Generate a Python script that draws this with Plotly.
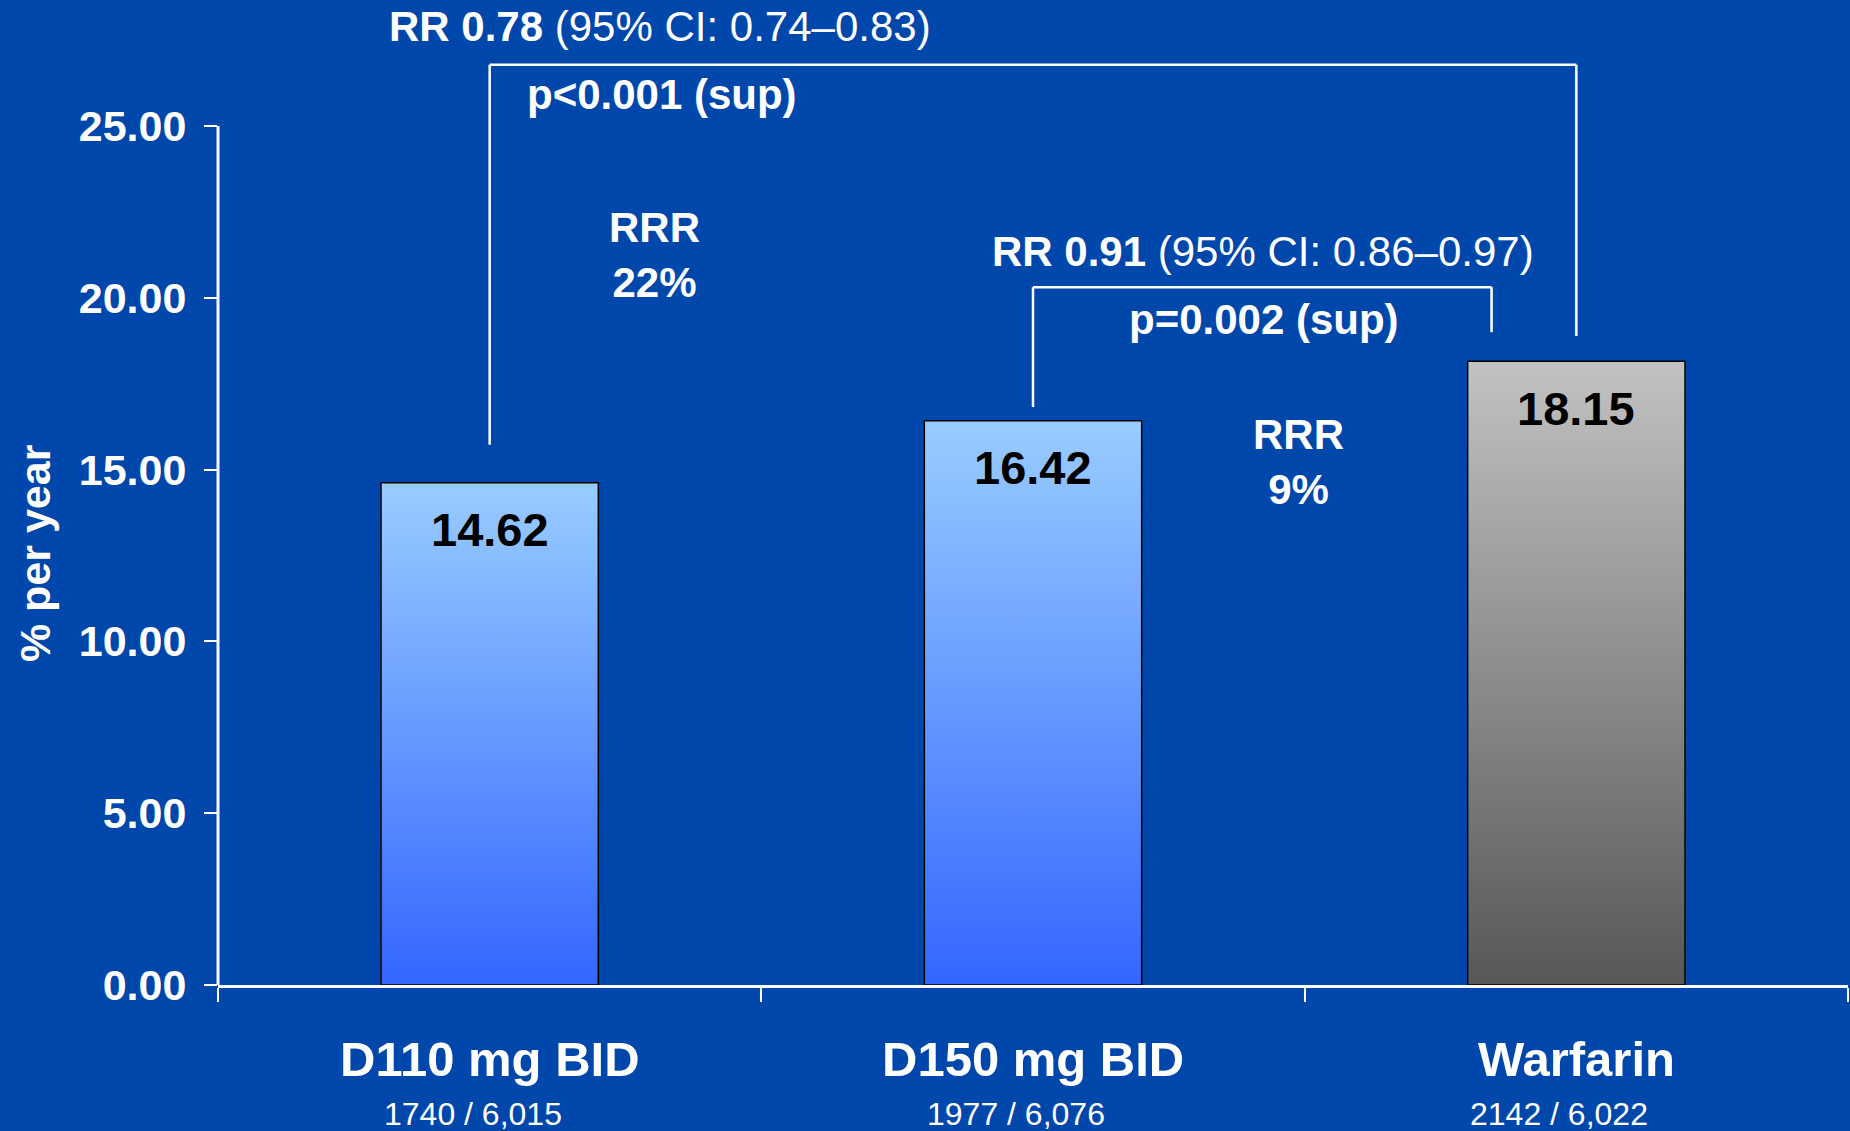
import plotly.graph_objects as go

# Annual event rates by treatment arm
categories = ["D110 mg BID", "D150 mg BID", "Warfarin"]
rates = [14.62, 16.42, 18.15]
events = ["1740 / 6,015", "1977 / 6,076", "2142 / 6,022"]
y_ticks = [0, 5, 10, 15, 20, 25]

# Bar fill gradients (top colour, bottom colour)
top_colors = ["#99CCFF", "#99CCFF", "#C2C2C2"]
bottom_colors = ["#3366FF", "#3366FF", "#575757"]

BG = "#0047AB"
FONT = "Liberation Sans, Arial, Helvetica, sans-serif"
BAR_HALF = 0.2

fig = go.Figure()

# Bars as closed outlines with a vertical gradient fill
for i, (v, c_top, c_bot) in enumerate(zip(rates, top_colors, bottom_colors)):
    fig.add_trace(go.Scatter(
        x=[i - BAR_HALF, i + BAR_HALF, i + BAR_HALF, i - BAR_HALF, i - BAR_HALF],
        y=[0, 0, v, v, 0],
        mode="lines",
        line=dict(color="black", width=1.5),
        fill="toself",
        fillgradient=dict(type="vertical", start=0, stop=v,
                          colorscale=[[0, c_bot], [1, c_top]]),
        hoverinfo="skip",
        showlegend=False,
    ))

annotations = []

# Value labels inside the bars
for i, v in enumerate(rates):
    annotations.append(dict(
        x=i, y=v, xref="x", yref="y", text=f"<b>{v:.2f}</b>",
        showarrow=False, yshift=-47, yanchor="middle",
        font=dict(family=FONT, size=47, color="black"),
    ))

# Category labels and event counts under the axis
for i, (name, ev) in enumerate(zip(categories, events)):
    annotations.append(dict(
        x=i, y=0, xref="x", yref="paper", text=f"<b>{name}</b>",
        showarrow=False, yanchor="middle", yshift=-74,
        font=dict(family=FONT, size=49, color="white"),
    ))
    annotations.append(dict(
        x=i, y=0, xref="x", yref="paper", text=ev,
        showarrow=False, yanchor="middle", yshift=-129, xshift=-17,
        font=dict(family=FONT, size=32, color="white"),
    ))

white = dict(family=FONT, size=42, color="white")

annotations += [
    dict(x=0.3135, y=27.91, xref="x", yref="y", showarrow=False,
         text="<b>RR 0.78</b> (95% CI: 0.74–0.83)", font=white),
    dict(x=0.065, y=25.93, xref="x", yref="y", showarrow=False, xanchor="left",
         text="<b>p<0.001 (sup)</b>", font=white),
    dict(x=0.304, y=21.26, xref="x", yref="y", showarrow=False,
         text="<b>RRR<br>22%</b>", font=white),
    dict(x=1.423, y=21.36, xref="x", yref="y", showarrow=False,
         text="<b>RR 0.91</b> (95% CI: 0.86–0.97)", font=white),
    dict(x=1.425, y=19.38, xref="x", yref="y", showarrow=False,
         text="<b>p=0.002 (sup)</b>", font=white),
    dict(x=1.488, y=15.22, xref="x", yref="y", showarrow=False,
         text="<b>RRR<br>9%</b>", font=white),
    # y-axis title
    dict(x=0, y=12.57, xref="paper", yref="y", showarrow=False,
         xshift=-209, textangle=-90,
         text="<b>% per year</b>", font=dict(family=FONT, size=43, color="white")),
]

line_style = dict(color="white", width=2.5)
shapes = [
    # y-axis line, stopping at the top tick
    dict(type="line", xref="paper", yref="y", x0=0, x1=0, y0=0, y1=25,
         line=dict(color="white", width=3)),
    # D110 vs warfarin bracket
    dict(type="line", xref="x", yref="y", x0=0, x1=0, y0=15.72, y1=26.78, line=line_style),
    dict(type="line", xref="x", yref="y", x0=0, x1=2, y0=26.78, y1=26.78, line=line_style),
    dict(type="line", xref="x", yref="y", x0=2, x1=2, y0=26.78, y1=18.89, line=line_style),
    # D150 vs warfarin bracket
    dict(type="line", xref="x", yref="y", x0=1, x1=1, y0=16.82, y1=20.31, line=line_style),
    dict(type="line", xref="x", yref="y", x0=1, x1=1.844, y0=20.31, y1=20.31, line=line_style),
    dict(type="line", xref="x", yref="y", x0=1.844, x1=1.844, y0=20.31, y1=19.0, line=line_style),
]

fig.update_layout(
    width=1850, height=1131,
    margin=dict(l=218, r=2, t=0, b=146),
    paper_bgcolor=BG, plot_bgcolor=BG,
    showlegend=False,
    annotations=annotations,
    shapes=shapes,
    xaxis=dict(
        range=[-0.5, 2.5], showgrid=False, zeroline=False,
        showline=True, linecolor="white", linewidth=3,
        tickvals=[-0.5, 0.5, 1.5, 2.5], ticks="outside", ticklen=14,
        tickwidth=2, tickcolor="white", showticklabels=False,
    ),
    yaxis=dict(
        range=[0, 28.667], showgrid=False, zeroline=False, showline=False,
        tickvals=y_ticks, ticktext=[f"<b>{t:.2f}</b>" for t in y_ticks],
        ticks="outside", ticklen=13, tickwidth=2, tickcolor="white",
        ticklabelstandoff=9,
        tickfont=dict(family=FONT, size=43, color="white"),
    ),
)

fig.write_html("out.html")
